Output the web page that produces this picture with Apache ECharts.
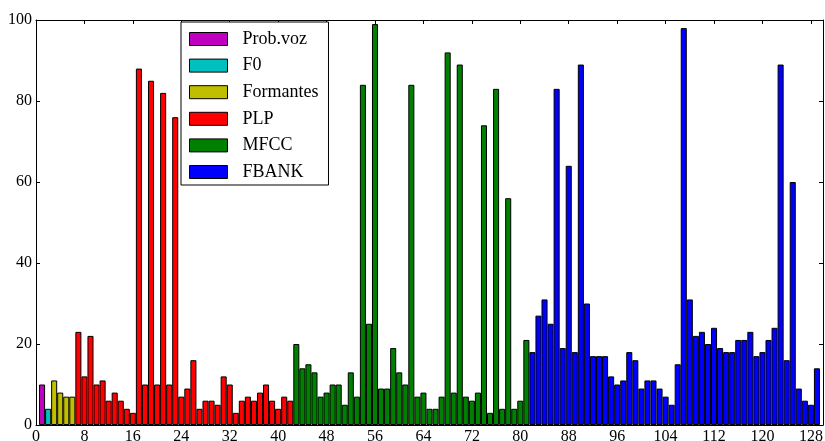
<!DOCTYPE html>
<html>
<head>
<meta charset="utf-8">
<script src="https://cdn.jsdelivr.net/npm/echarts@6/dist/echarts.min.js"></script>
<style>
  html, body { margin: 0; padding: 0; background: #fff; }
  #chart { width: 825px; height: 441px; }
</style>
</head>
<body>
<div id="chart"></div>
<script>
// Feature counts per coefficient, grouped by feature family (bars are numbered from 1)
const probVoz   = [10];
const f0        = [4];
const formantes = [11, 8, 7, 7];
const plp  = [23, 12, 22, 10, 11, 6, 8, 6, 4, 3, 88, 10, 85, 10, 82, 10, 76, 7, 9, 16,
              4, 6, 6, 5, 12, 10, 3, 6, 7, 6, 8, 10, 6, 4, 7, 6];
const mfcc = [20, 14, 15, 13, 7, 8, 10, 10, 5, 13, 7, 84, 25, 99, 9, 9, 19, 13, 10, 84,
              7, 8, 4, 4, 7, 92, 8, 89, 7, 6, 8, 74, 3, 83, 4, 56, 4, 6, 21];
const fbank = [18, 27, 31, 25, 83, 19, 64, 18, 89, 30, 17, 17, 17, 12, 10, 11, 18, 16, 9, 11,
               11, 9, 7, 5, 15, 98, 31, 22, 23, 20, 24, 19, 18, 18, 21, 21, 23, 17, 18, 21,
               24, 89, 16, 60, 9, 6, 5, 14];

const groupNames  = ['Prob.voz', 'F0', 'Formantes', 'PLP', 'MFCC', 'FBANK'];
const groupValues = [probVoz, f0, formantes, plp, mfcc, fbank];
const groupColors = ['#bf00bf', '#00bfbf', '#bfbf00', '#ff0000', '#008000', '#0000ff'];

const xTicks = [0, 8, 16, 24, 32, 40, 48, 56, 64, 72, 80, 88, 96, 104, 112, 120, 128];
const yTicks = [0, 20, 40, 60, 80, 100];

const X_MAX = 130;
const grid = { left: 36, right: 2, top: 20, bottom: 16, outerBoundsMode: 'none', containLabel: false };
const unitPx = (825 - grid.left - grid.right) / X_MAX;

const font = 'Liberation Serif';

// Turn each group into [position, value] pairs; positions continue across groups
let pos = 1;
const series = groupValues.map((vals, g) => {
  const data = vals.map(v => [pos++, v]);
  return {
    name: groupNames[g],
    type: 'bar',
    data: data,
    barWidth: unitPx,
    barGap: '-100%',
    itemStyle: { color: groupColors[g], borderColor: '#000', borderWidth: 1 },
    animation: false
  };
});

const tickSet = new Set(xTicks);
const baseX = {
  type: 'value', min: 0, max: X_MAX, interval: 8,
  axisLine: { show: true, onZero: false, lineStyle: { color: '#000', width: 1 } },
  axisTick: { show: true, inside: true, length: 4, lineStyle: { color: '#000' } },
  splitLine: { show: false }
};
const baseY = {
  type: 'value', min: 0, max: 100, interval: 20,
  axisLine: { show: true, onZero: false, lineStyle: { color: '#000', width: 1 } },
  axisTick: { show: true, inside: true, length: 4, lineStyle: { color: '#000' } },
  splitLine: { show: false }
};

const chart = echarts.init(document.getElementById('chart'), null, { renderer: 'canvas' });
chart.setOption({
  backgroundColor: '#fff',
  animation: false,
  grid: grid,
  legend: {
    data: groupNames,
    orient: 'vertical',
    left: 181, top: 22,
    itemWidth: 38, itemHeight: 13, itemGap: 8.6,
    padding: [8, 10, 4, 8],
    backgroundColor: '#fff',
    borderColor: '#000', borderWidth: 1, borderRadius: 0,
    selectedMode: false,
    icon: 'rect',
    itemStyle: { borderColor: '#000', borderWidth: 1 },
    textStyle: { fontFamily: font, fontSize: 18, color: '#000', padding: [0, 0, 0, 10] }
  },
  xAxis: [
    Object.assign({}, baseX, {
      position: 'bottom',
      axisLabel: {
        show: true, margin: 4, fontFamily: font, fontSize: 16, color: '#000',
        formatter: v => (tickSet.has(v) ? String(v) : '')
      }
    }),
    Object.assign({}, baseX, { position: 'top', axisLabel: { show: false } })
  ],
  yAxis: [
    Object.assign({}, baseY, {
      position: 'left',
      axisLabel: {
        show: true, margin: 4, fontFamily: font, fontSize: 16, color: '#000',
        formatter: v => (yTicks.includes(v) ? String(v) : '')
      }
    }),
    Object.assign({}, baseY, { position: 'right', axisLabel: { show: false } })
  ],
  series: series
});
</script>
</body>
</html>
